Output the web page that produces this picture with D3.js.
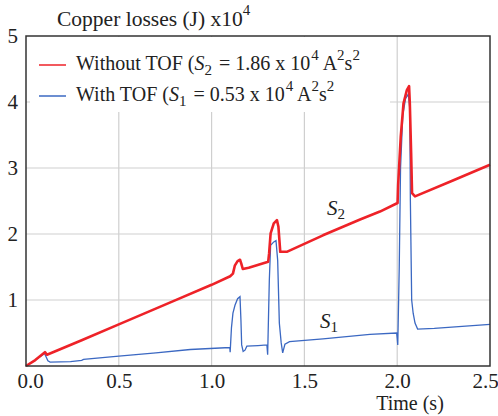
<!DOCTYPE html>
<html>
<head>
<meta charset="utf-8">
<script src="https://cdn.jsdelivr.net/npm/d3@7"></script>
<style>
body { margin: 0; background: #fff; }
text { font-family: "Liberation Serif", "Times New Roman", serif; fill: #222; }
</style>
</head>
<body>
<svg id="chart" width="498" height="416"></svg>
<script>
// values
var xTicks = [0, 0.5, 1.0, 1.5, 2.0, 2.5];
var yTicks = [1, 2, 3, 4, 5];

// without TOF (S2)
var timeS2 = [0, 0.05, 0.102, 0.113, 0.3, 0.5, 0.8, 1.0, 1.1, 1.115, 1.125, 1.14, 1.153, 1.16, 1.168, 1.2,
              1.305, 1.31, 1.318, 1.335, 1.352, 1.36, 1.37, 1.405, 1.6, 1.8, 1.907, 2.002, 2.005, 2.019,
              2.034, 2.052, 2.064, 2.068, 2.075, 2.08, 2.096, 2.3, 2.5];
var lossS2 = [0, 0.09, 0.21, 0.17, 0.39, 0.63, 0.99, 1.23, 1.36, 1.40, 1.52, 1.59, 1.61, 1.55, 1.47, 1.49,
              1.58, 1.71, 2.01, 2.16, 2.21, 2.11, 1.73, 1.73, 1.98, 2.22, 2.34, 2.47, 2.74, 3.47,
              3.98, 4.18, 4.24, 3.98, 3.23, 2.62, 2.57, 2.81, 3.05];

// with TOF (S1)
var timeS1 = [0, 0.05, 0.1, 0.108, 0.118, 0.13, 0.24, 0.3, 0.31, 0.5, 0.7, 0.885, 1.098, 1.1, 1.107, 1.115,
              1.126, 1.14, 1.153, 1.158, 1.162, 1.17, 1.18, 1.19, 1.25, 1.298, 1.302, 1.311, 1.318, 1.335,
              1.347, 1.356, 1.365, 1.375, 1.383, 1.395, 1.42, 1.6, 1.853, 1.997, 2.0, 2.003, 2.011, 2.018,
              2.03, 2.045, 2.06, 2.068, 2.071, 2.078, 2.086, 2.096, 2.11, 2.2, 2.35, 2.5];
var lossS1 = [0, 0.09, 0.19, 0.14, 0.08, 0.06, 0.065, 0.085, 0.1, 0.15, 0.2, 0.25, 0.28, 0.21, 0.58, 0.8,
              0.92, 1.02, 1.05, 0.7, 0.32, 0.22, 0.24, 0.3, 0.31, 0.32, 0.17, 1.3, 1.83, 1.88,
              1.90, 1.6, 0.65, 0.35, 0.2, 0.33, 0.37, 0.41, 0.48, 0.5, 0.42, 0.32, 1.5, 3.0,
              3.8, 4.05, 4.12, 3.9, 2.5, 1.0, 0.8, 0.65, 0.56, 0.57, 0.6, 0.63];

var plotL = 26, plotR = 490, plotT = 36, plotB = 366;

var svg = d3.select("#chart");

var x = d3.scaleLinear().domain([0, 2.5]).range([plotL, plotR]);
var y = d3.scaleLinear().domain([0, 5]).range([plotB, plotT]);

// grid
svg.append("g").selectAll("line")
    .data(xTicks.slice(1, -1))
  .enter().append("line")
    .attr("x1", function(d) { return x(d); })
    .attr("x2", function(d) { return x(d); })
    .attr("y1", plotT)
    .attr("y2", plotB)
    .attr("stroke", "#cfcfcf")
    .attr("stroke-width", 1.2);

svg.append("g").selectAll("line")
    .data(yTicks.slice(0, -1))
  .enter().append("line")
    .attr("x1", plotL)
    .attr("x2", plotR)
    .attr("y1", function(d) { return y(d); })
    .attr("y2", function(d) { return y(d); })
    .attr("stroke", "#cfcfcf")
    .attr("stroke-width", 1.2);

// legend box hides the grid under it
svg.append("rect")
    .attr("x", 30).attr("y", plotT + 1)
    .attr("width", 360).attr("height", 75)
    .attr("fill", "#fff");

var xAxis = d3.axisBottom(x)
    .tickValues(xTicks)
    .tickFormat(d3.format(".1f"))
    .tickSize(0)
    .tickPadding(7);

var gx = svg.append("g")
    .attr("transform", "translate(0," + plotB + ")")
    .call(xAxis);
gx.select(".domain").remove();
gx.selectAll("text").attr("font-size", 21).attr("fill", "#222")
    .attr("font-family", "Liberation Serif");
gx.selectAll("text").filter(function(d) { return d == 0; }).attr("dx", 4);
gx.selectAll("text").filter(function(d) { return d == 2.5; }).attr("dx", -5);

var yAxis = d3.axisLeft(y)
    .tickValues(yTicks)
    .tickFormat(d3.format("d"))
    .tickSize(0)
    .tickPadding(8);

var gy = svg.append("g")
    .attr("transform", "translate(" + plotL + ",0)")
    .call(yAxis);
gy.select(".domain").remove();
gy.selectAll("text").attr("font-size", 21).attr("fill", "#222")
    .attr("font-family", "Liberation Serif");

// curves
var line = d3.line()
    .x(function(d) { return x(d[0]); })
    .y(function(d) { return y(d[1]); });

svg.append("path")
    .datum(d3.zip(timeS1, lossS1))
    .attr("d", line)
    .attr("fill", "none")
    .attr("stroke", "#3b68c2")
    .attr("stroke-width", 1.3);

svg.append("path")
    .datum(d3.zip(timeS2, lossS2))
    .attr("d", line)
    .attr("fill", "none")
    .attr("stroke", "#ee2228")
    .attr("stroke-width", 2.6)
    .attr("stroke-linejoin", "round");

// frame
svg.append("rect")
    .attr("x", plotL).attr("y", plotT)
    .attr("width", plotR - plotL).attr("height", plotB - plotT)
    .attr("fill", "none")
    .attr("stroke", "#333")
    .attr("stroke-width", 1.5);

// title
var title = svg.append("text")
    .attr("x", 57).attr("y", 26)
    .attr("font-size", 21.5);
title.append("tspan").text("Copper losses (J) x10");
title.append("tspan").attr("dy", -11).attr("font-size", 15).text("4");

// legend
var legend = [
  {color: "#ee2228", y: 65, sub: "2", val: "1.86", lead: "Without TOF ("},
  {color: "#3b68c2", y: 96, sub: "1", val: "0.53", lead: "With TOF ("}
];

legend.forEach(function(l) {
  svg.append("line")
      .attr("x1", 39).attr("x2", 66)
      .attr("y1", l.y).attr("y2", l.y)
      .attr("stroke", l.color)
      .attr("stroke-width", 1.5);
  var t = svg.append("text")
      .attr("x", 76).attr("y", l.y + 5)
      .attr("font-size", 20);
  t.append("tspan").text(l.lead);
  t.append("tspan").attr("font-style", "italic").text("S");
  t.append("tspan").attr("dy", 5).attr("font-size", 15).text(l.sub);
  t.append("tspan").attr("dy", -5).attr("dx", 2).text(" = " + l.val + " x 10");
  t.append("tspan").attr("dy", -10).attr("dx", 1).attr("font-size", 15).text("4");
  t.append("tspan").attr("dy", 10).text(" A");
  t.append("tspan").attr("dy", -10).attr("font-size", 15).text("2");
  t.append("tspan").attr("dy", 10).text("s");
  t.append("tspan").attr("dy", -10).attr("font-size", 15).text("2");
});

// curve labels
var s2 = svg.append("text").attr("x", 327).attr("y", 215).attr("font-size", 21);
s2.append("tspan").attr("font-style", "italic").text("S");
s2.append("tspan").attr("dy", 4).attr("font-size", 15).text("2");

var s1 = svg.append("text").attr("x", 320).attr("y", 328).attr("font-size", 21);
s1.append("tspan").attr("font-style", "italic").text("S");
s1.append("tspan").attr("dy", 4).attr("font-size", 15).text("1");

// axis title
svg.append("text")
    .attr("x", 410).attr("y", 410)
    .attr("text-anchor", "middle")
    .attr("font-size", 20)
    .text("Time (s)");
</script>
</body>
</html>
